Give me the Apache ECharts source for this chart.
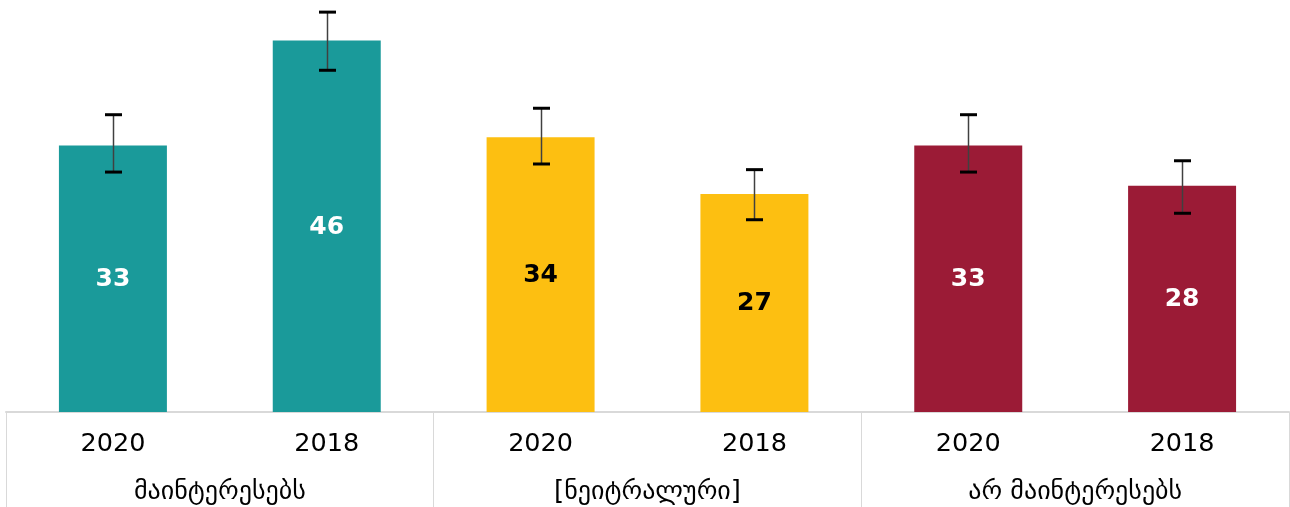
<!DOCTYPE html>
<html><head><meta charset="utf-8">
<script src="https://cdn.jsdelivr.net/npm/echarts@6/dist/echarts.min.js"></script>
<style>html,body{margin:0;padding:0;background:#fff}#c{width:1290px;height:507px}</style>
</head><body><div id="c"></div>
<script>
var years = ['2020','2018','2020','2018','2020','2018'];
var groups = ['მაინტერესებს','[ნეიტრალური]','არ მაინტერესებს'];
var values = [33, 46, 34, 27, 33, 28];
var errLow = [29.7, 42.3, 30.7, 23.8, 29.7, 24.6];
var errHigh = [36.8, 49.5, 37.6, 30.0, 36.8, 31.1];
var colors = ['#1a9a9a','#1a9a9a','#fdbf11','#fdbf11','#9b1b36','#9b1b36'];
var labelColors = ['#ffffff','#ffffff','#000000','#000000','#ffffff','#ffffff'];

var font = 'DejaVu Sans';
var chart = echarts.init(document.getElementById('c'));
chart.setOption({
  animation: false,
  grid: {left: 6, right: 1, top: 0, bottom: 95, containLabel: false},
  xAxis: [{
    type: 'category', data: years, position: 'bottom',
    axisLine: {show: true, lineStyle: {color: '#d9d9d9', width: 2}},
    axisTick: {show: false},
    axisLabel: {color: '#000', fontSize: 25.5, fontFamily: font, margin: 19}
  }, {
    type: 'category', data: groups, position: 'bottom',
    axisLine: {show: false},
    axisTick: {show: true, length: 95, lineStyle: {color: '#d9d9d9', width: 1}},
    axisLabel: {color: '#000', fontSize: 26, fontFamily: font, margin: 67}
  }],
  yAxis: {type: 'value', min: 0, max: 51, show: false, splitLine: {show: false}},
  series: [{
    type: 'bar', barWidth: '50.5%',
    data: values.map(function (v, i) {
      return {value: v, itemStyle: {color: colors[i]},
        label: {color: labelColors[i]}};
    }),
    label: {show: true, position: 'inside', offset: [0, 1], fontSize: 25, fontWeight: 'bold', fontFamily: font}
  }, {
    type: 'custom',
    data: values.map(function (v, i) { return [i, errLow[i], errHigh[i]]; }),
    encode: {x: 0, y: [1, 2]},
    z: 10,
    renderItem: function (params, api) {
      var lo = api.coord([api.value(0), api.value(1)]);
      var hi = api.coord([api.value(0), api.value(2)]);
      var x = Math.round(lo[0]) + 0.5, hw = 8.5;
      return {type: 'group', children: [
        {type: 'line', shape: {x1: x, y1: hi[1], x2: x, y2: lo[1]}, style: {stroke: '#404040', lineWidth: 1.5}},
        {type: 'line', shape: {x1: x - hw, y1: hi[1], x2: x + hw, y2: hi[1]}, style: {stroke: '#000', lineWidth: 3}},
        {type: 'line', shape: {x1: x - hw, y1: lo[1], x2: x + hw, y2: lo[1]}, style: {stroke: '#000', lineWidth: 3}}
      ]};
    }
  }]
});
</script></body></html>
